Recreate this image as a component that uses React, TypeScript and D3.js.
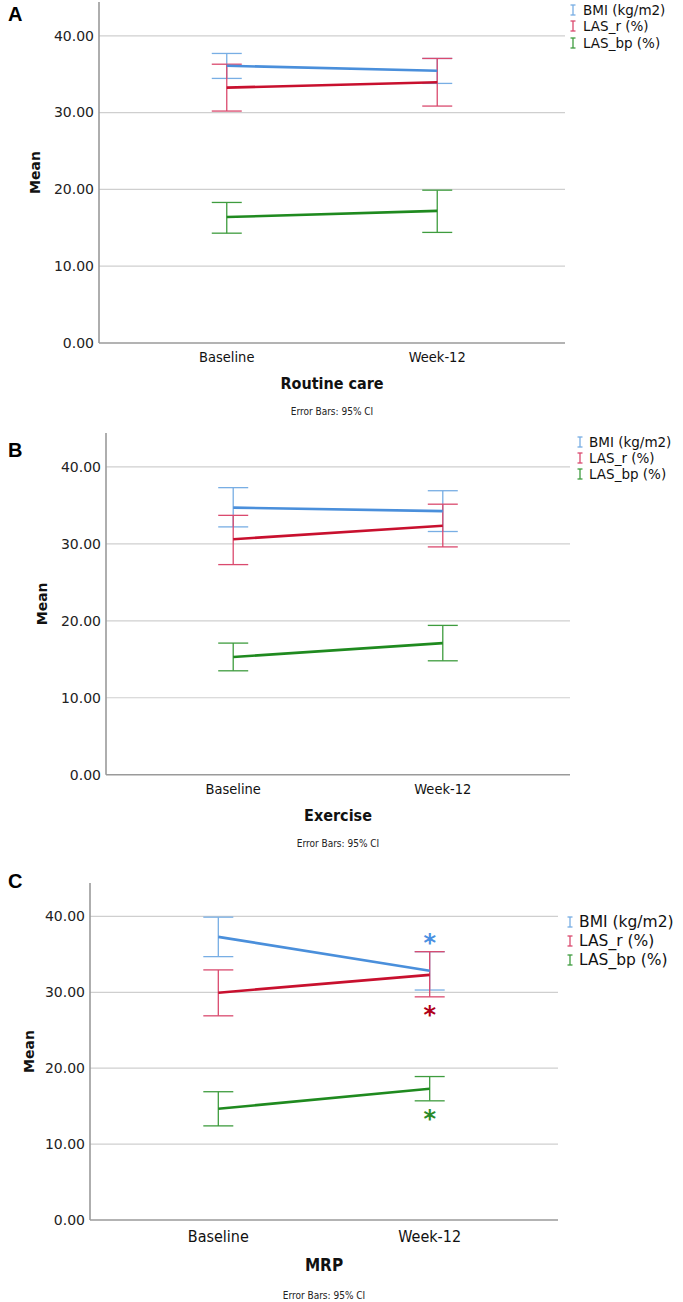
import React from "react";
import * as d3 from "d3";

const categories = ["Baseline", "Week-12"];
const seriesNames = ["BMI (kg/m2)", "LAS_r (%)", "LAS_bp (%)"];
const yTicks = [0, 10, 20, 30, 40];
const yMax = 44.4;

// Routine care (A): mean, lower CI, upper CI per time point
const routineBmiMean = [36.1, 35.45];
const routineBmiLow = [34.45, 33.8];
const routineBmiHigh = [37.7, 37.05];
const routineLasrMean = [33.25, 33.95];
const routineLasrLow = [30.2, 30.85];
const routineLasrHigh = [36.3, 37.05];
const routineLasbpMean = [16.4, 17.2];
const routineLasbpLow = [14.3, 14.4];
const routineLasbpHigh = [18.3, 19.9];

// Exercise (B)
const exerciseBmiMean = [34.7, 34.25];
const exerciseBmiLow = [32.2, 31.6];
const exerciseBmiHigh = [37.3, 36.9];
const exerciseLasrMean = [30.6, 32.35];
const exerciseLasrLow = [27.3, 29.6];
const exerciseLasrHigh = [33.7, 35.15];
const exerciseLasbpMean = [15.3, 17.1];
const exerciseLasbpLow = [13.5, 14.8];
const exerciseLasbpHigh = [17.1, 19.4];

// MRP (C)
const mrpBmiMean = [37.3, 32.85];
const mrpBmiLow = [34.7, 30.3];
const mrpBmiHigh = [39.9, 35.35];
const mrpLasrMean = [29.95, 32.3];
const mrpLasrLow = [26.9, 29.4];
const mrpLasrHigh = [32.95, 35.35];
const mrpLasbpMean = [14.65, 17.3];
const mrpLasbpLow = [12.4, 15.7];
const mrpLasbpHigh = [16.9, 18.9];

const lineColors = ["#4A8FDB", "#C8102E", "#1F8A1F"];
const barColors = ["#78AEE4", "#DA4A6E", "#3E9C3E"];
const starColors = ["#4A90E2", "#B0001A", "#2A8A2A"];

const panels = [
  {
    letter: "A",
    title: "Routine care",
    series: [
      { mean: routineBmiMean, low: routineBmiLow, high: routineBmiHigh },
      { mean: routineLasrMean, low: routineLasrLow, high: routineLasrHigh },
      { mean: routineLasbpMean, low: routineLasbpLow, high: routineLasbpHigh },
    ],
    stars: false,
    layout: {
      top: 2, zero: 343, left: 99, right: 565,
      letterY: 21, meanX: 35,
      legendIconX: 573, legendTextX: 583, legendY: [10, 26, 43], legendFont: 13.5,
      tickY: 357, titleY: 383, noteY: 411, xFont: 14.5, titleFont: 16,
    },
  },
  {
    letter: "B",
    title: "Exercise",
    series: [
      { mean: exerciseBmiMean, low: exerciseBmiLow, high: exerciseBmiHigh },
      { mean: exerciseLasrMean, low: exerciseLasrLow, high: exerciseLasrHigh },
      { mean: exerciseLasbpMean, low: exerciseLasbpLow, high: exerciseLasbpHigh },
    ],
    stars: false,
    layout: {
      top: 433, zero: 774.7, left: 106, right: 570,
      letterY: 457, meanX: 42,
      legendIconX: 580, legendTextX: 589, legendY: [442, 458, 474], legendFont: 13.5,
      tickY: 789, titleY: 815, noteY: 843, xFont: 14.5, titleFont: 16,
    },
  },
  {
    letter: "C",
    title: "MRP",
    series: [
      { mean: mrpBmiMean, low: mrpBmiLow, high: mrpBmiHigh },
      { mean: mrpLasrMean, low: mrpLasrLow, high: mrpLasrHigh },
      { mean: mrpLasbpMean, low: mrpLasbpLow, high: mrpLasbpHigh },
    ],
    stars: true,
    layout: {
      top: 883, zero: 1220, left: 90, right: 558,
      letterY: 888, meanX: 29,
      legendIconX: 570, legendTextX: 579, legendY: [922, 941, 960], legendFont: 15.5,
      tickY: 1236, titleY: 1265, noteY: 1295, xFont: 16, titleFont: 17,
    },
  },
];

const condensed = "'DejaVu Sans Condensed', 'Liberation Sans Narrow', 'DejaVu Sans', sans-serif";
const sans = "'DejaVu Sans', 'Noto Sans', sans-serif";

function Panel({ p }: { p: any }) {
  const L = p.layout;
  const y = d3.scaleLinear().domain([0, yMax]).range([L.zero, L.top]);
  const x = d3.scalePoint<string>().domain(categories).range([L.left, L.right]).padding(0.607);
  const line = d3
    .line<number>()
    .x((_, i) => x(categories[i]) as number)
    .y((d) => y(d));
  const cap = 15;
  return (
    <g>
      <text x={8} y={L.letterY} fontFamily="'Liberation Sans', Arial, sans-serif" fontWeight="bold" fontSize={20} fill="#000">
        {p.letter}
      </text>
      {yTicks.map((t) => (
        <g key={t}>
          {t > 0 && (
            <line x1={L.left} x2={L.right} y1={y(t)} y2={y(t)} stroke="#CFCFCF" strokeWidth={1.2} />
          )}
          <text x={L.left - 5} y={y(t)} dy="0.35em" textAnchor="end" fontFamily={sans} fontSize={14} fill="#222">
            {d3.format(".2f")(t)}
          </text>
        </g>
      ))}
      <line x1={L.left} x2={L.left} y1={L.top} y2={y(0)} stroke="#9A9A9A" strokeWidth={1.6} />
      <line x1={L.left} x2={L.right} y1={y(0)} y2={y(0)} stroke="#9A9A9A" strokeWidth={1.6} />
      <text
        transform={`translate(${L.meanX},${(L.top + L.zero) / 2}) rotate(-90)`}
        textAnchor="middle"
        dy="0.35em"
        fontFamily={sans}
        fontWeight="bold"
        fontSize={14}
        fill="#111"
      >
        Mean
      </text>
      {p.series.map((s: any, si: number) => (
        <g key={si}>
          {categories.map((c, i) => {
            const cx = x(c) as number;
            return (
              <g key={c} stroke={barColors[si]} strokeWidth={1.3}>
                <line x1={cx} x2={cx} y1={y(s.low[i])} y2={y(s.high[i])} />
                <line x1={cx - cap} x2={cx + cap} y1={y(s.low[i])} y2={y(s.low[i])} />
                <line x1={cx - cap} x2={cx + cap} y1={y(s.high[i])} y2={y(s.high[i])} />
              </g>
            );
          })}
        </g>
      ))}
      {p.series.map((s: any, si: number) => (
        <path key={si} d={line(s.mean) as string} fill="none" stroke={lineColors[si]} strokeWidth={2.6} />
      ))}
      {p.stars &&
        p.series.map((s: any, si: number) => {
          const cx = x(categories[1]) as number;
          const pos = si === 0 ? y(s.mean[1]) - 36 : y(s.low[1]) + 9;
          return (
            <text key={si} x={cx} y={pos} dy="0.7em" textAnchor="middle" fontFamily={sans} fontWeight="bold" fontSize={24} fill={starColors[si]}>
              *
            </text>
          );
        })}
      {seriesNames.map((n, si) => (
        <g key={n}>
          <g stroke={barColors[si]} strokeWidth={1.3}>
            <line x1={L.legendIconX} x2={L.legendIconX} y1={L.legendY[si] - 5} y2={L.legendY[si] + 5} />
            <line x1={L.legendIconX - 2.5} x2={L.legendIconX + 2.5} y1={L.legendY[si] - 5} y2={L.legendY[si] - 5} />
            <line x1={L.legendIconX - 2.5} x2={L.legendIconX + 2.5} y1={L.legendY[si] + 5} y2={L.legendY[si] + 5} />
          </g>
          <text x={L.legendTextX} y={L.legendY[si]} dy="0.35em" fontFamily={sans} fontSize={L.legendFont} fill="#111">
            {n}
          </text>
        </g>
      ))}
      {categories.map((c) => (
        <text key={c} x={x(c) as number} y={L.tickY} textAnchor="middle" dy="0.35em" fontFamily={condensed} fontSize={L.xFont} fill="#111">
          {c}
        </text>
      ))}
      <text x={(L.left + L.right) / 2} y={L.titleY} textAnchor="middle" dy="0.35em" fontFamily={condensed} fontWeight="bold" fontSize={L.titleFont} fill="#111">
        {p.title}
      </text>
      <text x={(L.left + L.right) / 2} y={L.noteY} textAnchor="middle" dy="0.35em" fontFamily={condensed} fontSize={10} fill="#222">
        Error Bars: 95% CI
      </text>
    </g>
  );
}

export default function App() {
  return (
    <svg
      width={683}
      height={1302}
      viewBox="0 0 683 1302"
      style={{ position: "absolute", left: 0, top: 0, background: "#fff" }}
    >
      <rect width={683} height={1302} fill="#fff" />
      {panels.map((p) => (
        <Panel key={p.letter} p={p} />
      ))}
    </svg>
  );
}
